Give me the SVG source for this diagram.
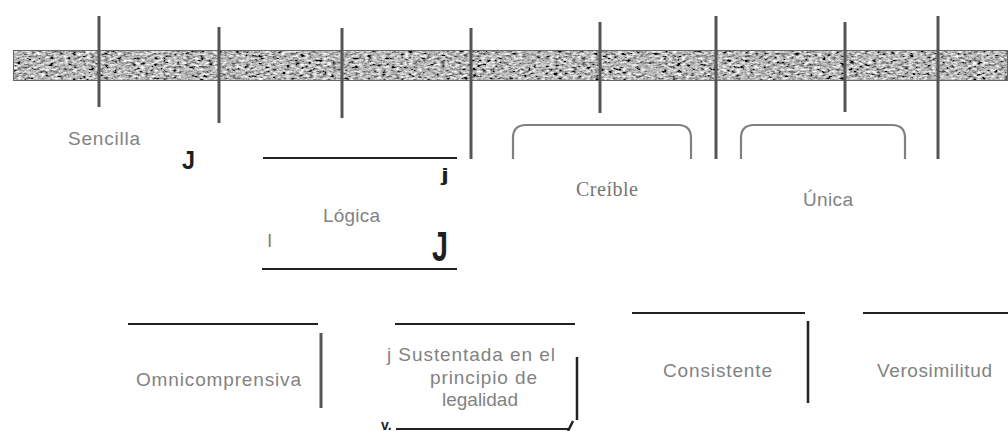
<svg xmlns="http://www.w3.org/2000/svg" width="1008" height="431" viewBox="0 0 1008 431">
<style>
.lbl{font-family:"Liberation Sans",Arial,sans-serif;font-size:19px;fill:#828282}
.serif{font-family:"Liberation Serif","Times New Roman",serif;font-size:20px;fill:#77756d}
.mark{font-family:"Liberation Sans",Arial,sans-serif;font-weight:bold;fill:#1e1e1e}
.tick{stroke:#555;stroke-width:3;fill:none}
.rule{stroke:#222;stroke-width:2;fill:none}
.brk{stroke:#808080;stroke-width:2.2;fill:none}
</style>
<defs>
<filter id="grain" x="0" y="0" width="100%" height="100%">
<feTurbulence type="fractalNoise" baseFrequency="0.22 0.45" numOctaves="3" seed="7" result="t"/>
<feColorMatrix in="t" type="matrix" values="0.33 0.33 0.33 0 0 0.33 0.33 0.33 0 0 0.33 0.33 0.33 0 0 0 0 0 0 1" result="g"/>
<feComponentTransfer in="g" result="c">
<feFuncR type="linear" slope="3.2" intercept="-1.12"/>
<feFuncG type="linear" slope="3.2" intercept="-1.12"/>
<feFuncB type="linear" slope="3.2" intercept="-1.12"/>
</feComponentTransfer>
<feComposite in="c" in2="SourceGraphic" operator="in"/>
</filter>
</defs>
<rect width="1008" height="431" fill="#ffffff"/>

<g id="band">
<rect x="13" y="50" width="995" height="31" fill="#000" filter="url(#grain)"/>
<rect x="13.5" y="50.5" width="994" height="30" fill="none" stroke="#666" stroke-width="1"/>
</g>

<g id="connectors">
<line class="tick" x1="99" y1="16" x2="99" y2="107"/>
<line class="tick" x1="219" y1="27" x2="219" y2="123"/>
<line class="tick" x1="342" y1="28" x2="342" y2="118"/>
<line class="tick" x1="471" y1="28" x2="471" y2="159"/>
<line class="tick" x1="600" y1="22" x2="600" y2="113"/>
<line class="tick" x1="716" y1="16" x2="716" y2="159"/>
<line class="tick" x1="845" y1="22" x2="845" y2="112"/>
<line class="tick" x1="938" y1="16" x2="938" y2="159"/>
<path class="brk" d="M513,159 V138 Q513,125 526,125 H678 Q691,125 691,138 V159"/>
<path class="brk" d="M741,159 V138 Q741,125 754,125 H892 Q905,125 905,138 V159"/>
</g>

<g id="node-sencilla">
<text class="lbl" x="68" y="145" textLength="72" lengthAdjust="spacing">Sencilla</text>
<text class="mark" x="182" y="169" font-size="26" textLength="13" lengthAdjust="spacingAndGlyphs">J</text>
</g>

<g id="node-logica">
<line class="rule" x1="263" y1="158" x2="457" y2="158"/>
<line class="rule" x1="262" y1="269" x2="457" y2="269"/>
<text class="mark" x="441" y="181" font-size="18" textLength="8" lengthAdjust="spacingAndGlyphs">j</text>
<text class="lbl" x="323" y="222" textLength="57" lengthAdjust="spacing">Lógica</text>
<text class="lbl" x="267" y="247" font-size="14" fill="#555">I</text>
<text class="mark" x="432" y="261" font-size="42" textLength="16" lengthAdjust="spacingAndGlyphs">J</text>
</g>

<g id="node-creible">
<text class="serif" x="576" y="196" textLength="62" lengthAdjust="spacing">Creíble</text>
</g>

<g id="node-unica">
<text class="lbl" x="803" y="206" textLength="50" lengthAdjust="spacing">Única</text>
</g>

<g id="node-omnicomprensiva">
<line class="rule" x1="128" y1="324" x2="318" y2="324"/>
<line x1="321" y1="333" x2="321" y2="408" stroke="#555" stroke-width="3"/>
<text class="lbl" x="136" y="386" fill="#88887c" textLength="165" lengthAdjust="spacing">Omnicomprensiva</text>
</g>

<g id="node-sustentada">
<line class="rule" x1="395" y1="324" x2="575" y2="324"/>
<line x1="577" y1="357" x2="577" y2="420" stroke="#222" stroke-width="2.5"/>
<text class="lbl" x="387" y="361" textLength="168" lengthAdjust="spacing">j Sustentada en el</text>
<text class="lbl" x="430" y="384" textLength="107" lengthAdjust="spacing">principio de</text>
<text class="lbl" x="442" y="406" textLength="76" lengthAdjust="spacing">legalidad</text>
<text class="mark" x="381" y="430" font-size="14" fill="#333">v.</text>
<line x1="396" y1="429" x2="568" y2="429" stroke="#222" stroke-width="2"/>
<line x1="568" y1="431" x2="573" y2="421" stroke="#222" stroke-width="2.5"/>
</g>

<g id="node-consistente">
<line class="rule" x1="632" y1="313" x2="805" y2="313"/>
<line x1="808" y1="321" x2="808" y2="403" stroke="#222" stroke-width="2.5"/>
<text class="lbl" x="663" y="377" textLength="109" lengthAdjust="spacing">Consistente</text>
</g>

<g id="node-verosimilitud">
<line class="rule" x1="863" y1="313" x2="1008" y2="313"/>
<text class="lbl" x="877" y="377" textLength="115" lengthAdjust="spacing">Verosimilitud</text>
</g>
</svg>
